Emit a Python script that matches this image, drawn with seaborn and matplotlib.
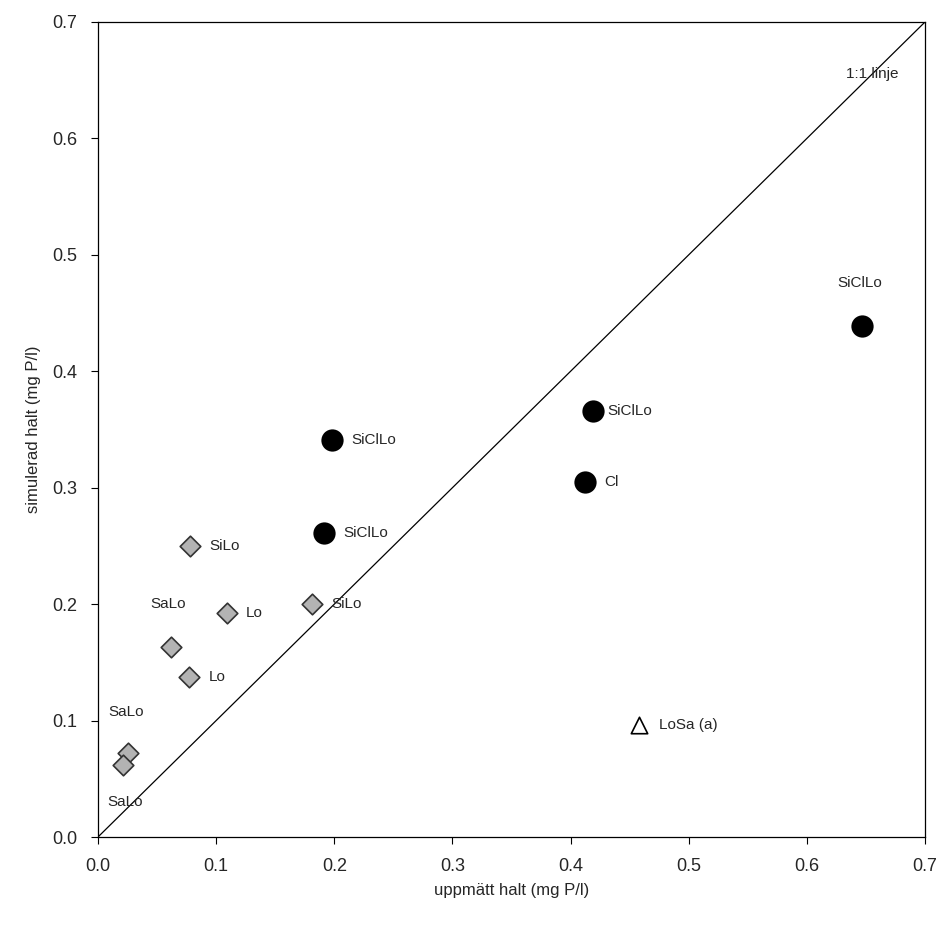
import numpy as np
import pandas as pd
import matplotlib.pyplot as plt
import seaborn as sns

sns.set_style('ticks')
plt.rcParams['font.family'] = ['Liberation Sans', 'DejaVu Sans']

circ_x = [0.647, 0.419, 0.412, 0.198, 0.191]
circ_y = [0.439, 0.366, 0.305, 0.341, 0.261]
circ_lab = ['SiClLo', 'SiClLo', 'Cl', 'SiClLo', 'SiClLo']

dia_x = [0.078, 0.109, 0.181, 0.062, 0.077, 0.025, 0.021]
dia_y = [0.250, 0.192, 0.200, 0.163, 0.137, 0.072, 0.062]
dia_lab = ['SiLo', 'Lo', 'SiLo', 'SaLo', 'Lo', 'SaLo', 'SaLo']

tri_x = [0.458]
tri_y = [0.096]
tri_lab = ['LoSa (a)']

# label offsets in points
circ_off = [(-18, 31), (10, 0), (14, 0), (14, 0), (14, 0)]
dia_off = [(14, 0), (14, 0), (14, 0), (-15, 31), (14, 0), (-14, 30), (-11, -27)]
tri_off = [(14, 0)]

fig = plt.figure(figsize=(9.41, 9.33), dpi=100)
ax = fig.add_axes([98/941, 1-837/933, 827/941, 815/933])

ax.plot([0, 0.7], [0, 0.7], color='black', lw=0.9)
ax.text(0.655, 0.655, '1:1 linje', fontsize=11, ha='center', va='center')

sns.scatterplot(x=circ_x, y=circ_y, ax=ax, marker='o', s=220, color='black', edgecolor='black')
sns.scatterplot(x=dia_x, y=dia_y, ax=ax, marker='D', s=110, color='#b3b3b3', edgecolor='#333333', linewidth=1.2)
sns.scatterplot(x=tri_x, y=tri_y, ax=ax, marker='^', s=140, facecolor='white', edgecolor='black', linewidth=1.2)

for xs, ys, labs, offs in [(circ_x, circ_y, circ_lab, circ_off),
                           (dia_x, dia_y, dia_lab, dia_off),
                           (tri_x, tri_y, tri_lab, tri_off)]:
    for x, y, l, o in zip(xs, ys, labs, offs):
        ax.annotate(l, (x, y), xytext=o, textcoords='offset points',
                    fontsize=11, va='center', ha='left')

ax.set_xlim(0, 0.7)
ax.set_ylim(0, 0.7)
ticks = np.arange(0, 0.71, 0.1)
ax.set_xticks(ticks)
ax.set_yticks(ticks)
ax.set_xticklabels(['%.1f' % t for t in ticks], fontsize=13)
ax.set_yticklabels(['%.1f' % t for t in ticks], fontsize=13)
ax.tick_params(direction='out', length=5, color='black', pad=10)
for s in ax.spines.values():
    s.set_color('black')
    s.set_linewidth(0.9)
ax.set_xlabel('uppmätt halt (mg P/l)', fontsize=12, labelpad=6)
ax.set_ylabel('simulerad halt (mg P/l)', fontsize=12, labelpad=8)

fig.savefig('out.png', dpi=100)
